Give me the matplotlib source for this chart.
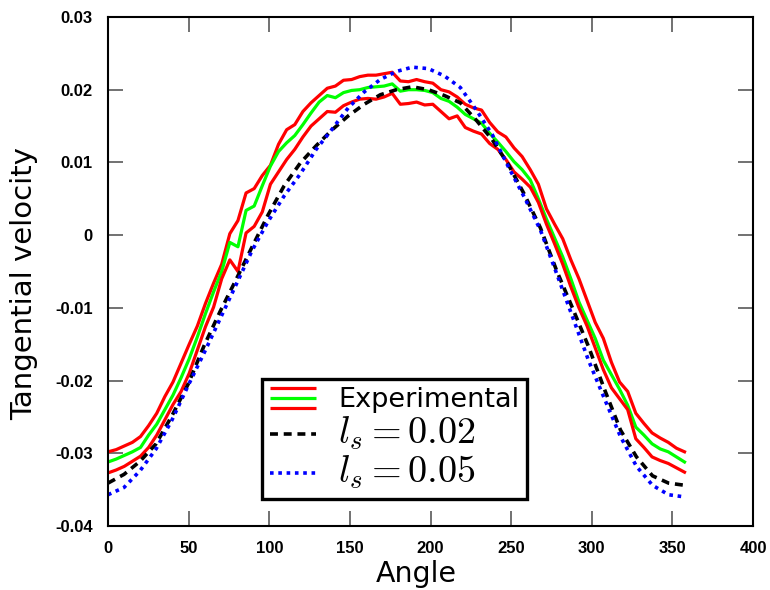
import numpy as np
import matplotlib
matplotlib.use("Agg")
import matplotlib.pyplot as plt
from matplotlib.lines import Line2D
from matplotlib.legend_handler import HandlerBase

plt.rcParams["mathtext.fontset"] = "cm"

# Experimental profile: upper bound, mean, lower bound
angle_exp = np.linspace(0, 357.5, 72)
exp_upper = [
    -0.0298, -0.0295, -0.0290, -0.0285, -0.0277, -0.0262, -0.0245, -0.0222, -0.0202, -0.0176,
    -0.0150, -0.0125, -0.0094, -0.0066, -0.0040, 0.0002, 0.0020, 0.0058, 0.0064, 0.0082,
    0.0096, 0.0125, 0.0145, 0.0152, 0.0170, 0.0182, 0.0192, 0.0202, 0.0205, 0.0213,
    0.0214, 0.0218, 0.0220, 0.0220, 0.0222, 0.0224, 0.0212, 0.0211, 0.0214, 0.0211,
    0.0209, 0.0200, 0.0197, 0.0190, 0.0180, 0.0175, 0.0172, 0.0155, 0.0142, 0.0135,
    0.0120, 0.0108, 0.0090, 0.0070, 0.0036, 0.0015, -0.0005, -0.0034, -0.0060, -0.0090,
    -0.0120, -0.0142, -0.0175, -0.0202, -0.0215, -0.0245, -0.0259, -0.0272, -0.0279, -0.0285,
    -0.0293, -0.0298,
]
exp_mean = [
    -0.0312, -0.0308, -0.0303, -0.0298, -0.0292, -0.0275, -0.0260, -0.0240, -0.0220, -0.0196,
    -0.0170, -0.0140, -0.0108, -0.0078, -0.0050, -0.0010, -0.0016, 0.0034, 0.0040, 0.0068,
    0.0095, 0.0115, 0.0127, 0.0137, 0.0152, 0.0168, 0.0183, 0.0192, 0.0189, 0.0196,
    0.0199, 0.0200, 0.0203, 0.0204, 0.0205, 0.0208, 0.0198, 0.0200, 0.0200, 0.0199,
    0.0196, 0.0188, 0.0184, 0.0176, 0.0166, 0.0160, 0.0154, 0.0140, 0.0128, 0.0115,
    0.0101, 0.0090, 0.0076, 0.0050, 0.0022, -0.0004, -0.0030, -0.0060, -0.0092, -0.0117,
    -0.0142, -0.0172, -0.0192, -0.0212, -0.0234, -0.0264, -0.0275, -0.0287, -0.0294, -0.0298,
    -0.0305, -0.0312,
]
exp_lower = [
    -0.0327, -0.0323, -0.0318, -0.0311, -0.0304, -0.0292, -0.0275, -0.0254, -0.0233, -0.0215,
    -0.0190, -0.0158, -0.0126, -0.0099, -0.0060, -0.0034, -0.0050, 0.0003, 0.0012, 0.0032,
    0.0070, 0.0087, 0.0104, 0.0118, 0.0135, 0.0150, 0.0160, 0.0170, 0.0169, 0.0178,
    0.0183, 0.0187, 0.0188, 0.0187, 0.0190, 0.0195, 0.0180, 0.0181, 0.0183, 0.0179,
    0.0180, 0.0170, 0.0160, 0.0164, 0.0148, 0.0143, 0.0139, 0.0126, 0.0118, 0.0104,
    0.0087, 0.0077, 0.0066, 0.0045, 0.0015, -0.0012, -0.0040, -0.0071, -0.0100, -0.0125,
    -0.0155, -0.0185, -0.0210, -0.0225, -0.0240, -0.0280, -0.0292, -0.0305, -0.0310, -0.0314,
    -0.0320, -0.0326,
]

# Model predictions for two slip lengths
angle_model = np.linspace(0, 357.5, 37)
model_ls002 = [
    -0.0341, -0.0329, -0.0311, -0.0287, -0.0248, -0.0205, -0.0152, -0.0105, -0.0061, -0.0016,
    0.0028, 0.0068, 0.0099, 0.0123, 0.0145, 0.0164, 0.0180, 0.0193, 0.0200, 0.0204,
    0.0200, 0.0192, 0.0182, 0.0158, 0.0131, 0.0097, 0.0056, 0.0010, -0.0048, -0.0100,
    -0.0153, -0.0212, -0.0268, -0.0305, -0.0331, -0.0341, -0.0344,
]
model_ls005 = [
    -0.0357, -0.0347, -0.0324, -0.0294, -0.0254, -0.0207, -0.0162, -0.0115, -0.0068, -0.0021,
    0.0019, 0.0054, 0.0084, 0.0118, 0.0146, 0.0175, 0.0197, 0.0214, 0.0225, 0.0231,
    0.0229, 0.0219, 0.0203, 0.0172, 0.0138, 0.0094, 0.0052, 0.0007, -0.0052, -0.0112,
    -0.0172, -0.0225, -0.0277, -0.0318, -0.0344, -0.0357, -0.0360,
]

x_ticks = [0, 50, 100, 150, 200, 250, 300, 350, 400]
y_ticks = [-0.04, -0.03, -0.02, -0.01, 0, 0.01, 0.02, 0.03]
y_tick_labels = ["-0.04", "-0.03", "-0.02", "-0.01", "0", "0.01", "0.02", "0.03"]


class HandlerStacked(HandlerBase):
    """Draw a group of lines stacked vertically in one legend entry."""

    def __init__(self, gap=7.0):
        super().__init__()
        self.gap = gap

    def create_artists(self, legend, orig_handle, xdescent, ydescent,
                       width, height, fontsize, trans):
        n = len(orig_handle)
        yc = (height - ydescent) / 2
        artists = []
        for i, ln in enumerate(orig_handle):
            y = yc + ((n - 1) / 2 - i) * self.gap
            a = Line2D([-xdescent, -xdescent + width], [y, y],
                       color=ln.get_color(), lw=ln.get_linewidth(),
                       linestyle=ln.get_linestyle(), solid_capstyle="butt")
            a.set_transform(trans)
            artists.append(a)
        return artists


fig = plt.figure(figsize=(7.7, 5.9), dpi=100)
ax = fig.add_axes([0.1403, 0.1085, 0.8377, 0.8627])

lw_exp = 2.3
l_up, = ax.plot(angle_exp, exp_upper, color="#ff0000", lw=lw_exp)
l_mid, = ax.plot(angle_exp, exp_mean, color="#00ff00", lw=lw_exp)
l_lo, = ax.plot(angle_exp, exp_lower, color="#ff0000", lw=lw_exp)
l_a, = ax.plot(angle_model, model_ls002, color="black", lw=2.6,
               linestyle=(0, (2.2, 1.6)))
l_b, = ax.plot(angle_model, model_ls005, color="#0000ff", lw=2.6,
               linestyle=(0, (1.0, 1.3)))

ax.set_xlim(0, 400)
ax.set_ylim(-0.04, 0.03)
ax.set_xticks(x_ticks)
ax.set_yticks(y_ticks)
ax.set_yticklabels(y_tick_labels)

ax.tick_params(which="both", direction="in", length=11, width=1.3,
               color="#666666", top=True, right=True,
               labelsize=12)
ax.tick_params(axis="x", pad=11)
ax.tick_params(axis="y", pad=11)
for lab in ax.get_xticklabels() + ax.get_yticklabels():
    lab.set_fontfamily("Liberation Sans")
    lab.set_fontweight("bold")
for sp in ax.spines.values():
    sp.set_linewidth(1.5)
    sp.set_color("black")

ax.set_xlabel("Angle", fontsize=20.5)
ax.set_ylabel("Tangential velocity", fontsize=21)
ax.xaxis.set_label_coords(0.4775, -0.066)
ax.yaxis.set_label_coords(-0.1085, 0.477)

exp_group = (l_up, l_mid, l_lo)
leg = ax.legend([exp_group, l_a, l_b],
                ["Experimental", r"$l_s = 0.02$", r"$l_s = 0.05$"],
                handler_map={exp_group: HandlerStacked(gap=7.2)},
                loc="lower left", bbox_to_anchor=(0.2388, 0.053),
                borderaxespad=0, fontsize=19.5, handlelength=1.7,
                handletextpad=0.8, borderpad=0.3, labelspacing=0.05,
                fancybox=False, framealpha=1, edgecolor="black")
leg.get_frame().set_linewidth(2.4)
for t in leg.get_texts()[1:]:
    t.set_fontsize(27.5)

fig.savefig("out.png", dpi=100)
